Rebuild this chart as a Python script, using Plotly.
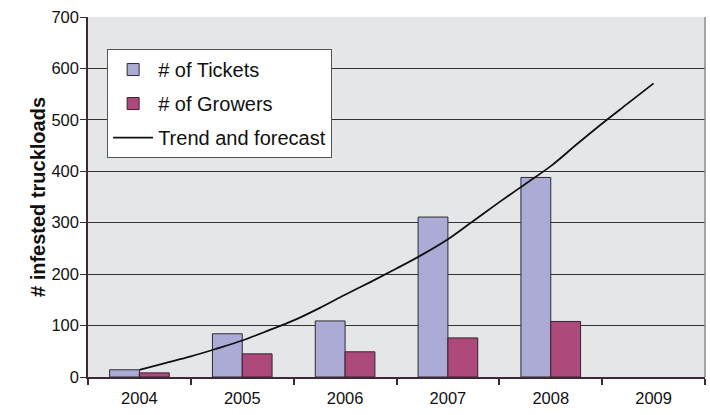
import plotly.graph_objects as go

years = [2004, 2005, 2006, 2007, 2008, 2009]
tickets = [14, 84, 109, 311, 388, None]
growers = [8, 45, 49, 76, 108, None]

trend_x = [2004.0, 2004.25, 2004.5, 2004.75, 2005.0, 2005.25, 2005.5, 2005.75, 2006.0,
           2006.25, 2006.5, 2006.75, 2007.0, 2007.25, 2007.5, 2007.75, 2008.0,
           2008.25, 2008.5, 2008.75, 2009.0]
trend_y = [14, 27, 40, 55, 71, 90, 110, 134, 160, 185, 211, 238, 268, 304, 340, 375, 410,
           452, 493, 532, 571]

y_ticks = [0, 100, 200, 300, 400, 500, 600, 700]

FONT = "Liberation Sans, Arial, sans-serif"

fig = go.Figure()
fig.add_trace(go.Bar(
    x=years, y=tickets, name="# of Tickets", legendgroup="a",
    marker=dict(color="#ababd6", line=dict(color="#2e2a33", width=1)),
))
fig.add_trace(go.Bar(
    x=years, y=growers, name="# of Growers", legendgroup="b",
    marker=dict(color="#ad4a7b", line=dict(color="#3a2030", width=1)),
))
fig.add_trace(go.Scatter(
    x=trend_x, y=trend_y, name="Trend and forecast", legendgroup="c",
    mode="lines", line=dict(color="#111111", width=1.8, shape="spline"),
))

fig.update_layout(
    width=710, height=415,
    margin=dict(l=88, r=5, t=17, b=38, autoexpand=False),
    paper_bgcolor="white",
    plot_bgcolor="#e5e6e8",
    barmode="group",
    bargap=0.42,
    bargroupgap=0,
    font=dict(family=FONT, size=16, color="#111111"),
    showlegend=True,
    legend=dict(
        x=0.031, y=0.911, xanchor="left", yanchor="top",
        bgcolor="white", bordercolor="#555555", borderwidth=1,
        font=dict(family=FONT, size=20, color="#111111"),
        tracegroupgap=5,
        itemwidth=40,
    ),
    xaxis=dict(
        range=[2003.5, 2009.5], automargin=False,
        tickmode="array", tickvals=years, ticktext=[str(y) for y in years],
        ticks="", showgrid=False, zeroline=False,
        showline=True, linecolor="#3b2a35", linewidth=1.5,
        ticklabelstandoff=5,
        tickfont=dict(family=FONT, size=16.5, color="#111111"),
        minor=dict(tickmode="array",
                   tickvals=[2003.5, 2004.5, 2005.5, 2006.5, 2007.5, 2008.5, 2009.5],
                   ticks="outside", ticklen=6, tickcolor="#3b2a35", tickwidth=1.5,
                   showgrid=False),
        fixedrange=True,
    ),
    yaxis=dict(
        range=[0, 700], automargin=False,
        tickmode="array", tickvals=y_ticks,
        ticks="outside", ticklen=6, tickcolor="#3b2a35", tickwidth=1,
        showgrid=True, gridcolor="#333333", gridwidth=1,
        zeroline=False,
        showline=True, linecolor="#3b2a35", linewidth=1.5,
        ticklabelstandoff=-2,
        tickfont=dict(family=FONT, size=16.5, color="#111111"),
        title=dict(text="<b># infested truckloads</b>",
                   font=dict(family=FONT, size=20, color="#111111"), standoff=0),
    ),
    shapes=[dict(type="line", xref="paper", yref="paper", x0=1, x1=1, y0=0, y1=1,
                 line=dict(color="#8a8a8a", width=1.5))],
)

fig.write_html(
    "out.html",
    config={"displayModeBar": False},
    post_script="document.body.style.margin='0';document.body.style.overflow='hidden';",
)
